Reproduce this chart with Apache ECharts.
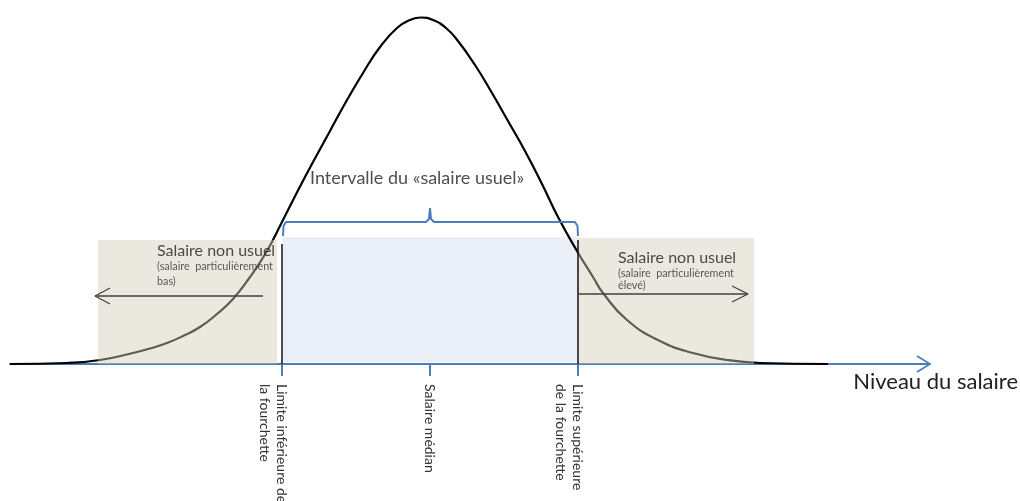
<!DOCTYPE html>
<html>
<head>
<meta charset="utf-8">
<script src="https://cdn.jsdelivr.net/npm/echarts@6/dist/echarts.min.js"></script>
<style>html,body{margin:0;padding:0;background:#fff}#c{width:1020px;height:501px}</style>
</head>
<body>
<div id="c"></div>
<script>
// Salary distribution curve (schematic), x = salary level, y = density
const curveX = [-2, 3.7, 7, 10.3, 12, 13.7, 15.3, 17, 18.7, 20.3, 22, 23.7, 25.3, 27.5, 30, 31.7, 33.3, 35, 36.7, 38, 39.1, 40.3, 41.6, 42.8, 44.5, 46.2, 47.8, 49.5, 51.2, 52.8, 54.7, 56.3, 57.3, 59.7, 63, 66.3, 69.7, 73, 79.8];
const curveY = [0, 0.1, 0.4, 1.1, 1.55, 2.1, 2.8, 3.7, 5.0, 6.5, 8.7, 11.3, 14.4, 18.7, 23.3, 26.4, 29.1, 31.7, 33.6, 34.4, 34.65, 34.4, 33.6, 32.3, 29.9, 27.1, 24.3, 21.3, 18, 14.7, 11.3, 8.7, 7.1, 4.4, 2.3, 1.1, 0.4, 0.1, 0];

// Key salary levels on the axis
const tickValues = [25.2, 40, 54.8];
const tickLabels = ['Limite inférieure de\nla fourchette', 'Salaire médian', 'Limite supérieure\nde la fourchette'];

// Zones [x0, y0, x1, y1]
const usualZone = [25.3, 0.2, 54.8, 12.7];
const lowZone = [6.8, -0.3, 24.7, 12.4];
const highZone = [54.8, -0.3, 72.4, 12.6];

// Limit lines
const lowerLimitLine = [[25.2, 12.0], [25.2, 0]];
const upperLimitLine = [[54.8, 12.4], [54.8, 0]];

// Brace above the usual interval
const braceX = [25.3, 25.35, 25.6, 39.6, 39.9, 40, 40.1, 40.4, 54.5, 54.75, 54.8];
const braceY = [12.8, 13.8, 14.2, 14.2, 14.5, 15.6, 14.5, 14.2, 14.2, 13.8, 12.8];

// Arrows
const lowArrow = [[23.3, 6.8], [6.5, 6.8]];
const lowArrowHead = [[8, 7.6], [6.5, 6.8], [8, 6.0]];
const highArrow = [[54.8, 7.0], [71.8, 7.0]];
const highArrowHead = [[70.2, 7.8], [71.8, 7.0], [70.2, 6.2]];
const axisArrowHead = [[88.7, 0.8], [90, 0], [88.7, -0.8]];

// Annotations
const titleNote = [{name: 'Intervalle du «salaire usuel»', value: [28, 18.6]}];
const zoneNotes = [
  {name: 'Salaire non usuel', value: [12.7, 11.3]},
  {name: 'Salaire non usuel', value: [58.8, 10.6]}
];
const zoneSubNotes = [
  {name: '(salaire  particulièrement', value: [12.7, 9.7]},
  {name: 'bas)', value: [12.7, 8.2]},
  {name: '(salaire  particulièrement', value: [58.8, 9.0]},
  {name: 'élevé)', value: [58.8, 7.8]}
];

const zip = (xs, ys) => xs.map((x, i) => [x, ys[i]]);
const FONT = 'Lato';
const BLUE = '#4A7EBB';

const rectArea = (r) => [{coord: [r[0], r[1]]}, {coord: [r[2], r[3]]}];

const lineSeries = (data, color, width, z) => ({
  type: 'line', data, symbol: 'none', clip: false, silent: true, z,
  lineStyle: {color, width}, animation: false
});

const textSeries = (data, size, color) => ({
  type: 'scatter', data, symbolSize: 0, clip: false, silent: true, z: 10, animation: false,
  label: {show: true, position: 'right', distance: 0, formatter: p => p.name,
    fontFamily: FONT, fontSize: size, color}
});

const chart = echarts.init(document.getElementById('c'));
chart.setOption({
  animation: false,
  grid: {left: 10, right: 90, top: 14, bottom: 137, containLabel: false, outerBoundsMode: 'none'},
  xAxis: {
    type: 'value', min: -2, max: 90,
    name: 'Niveau du salaire', nameLocation: 'end', nameGap: 88,
    nameTextStyle: {fontFamily: FONT, fontSize: 22, color: '#222', align: 'right', verticalAlign: 'top', padding: [7, 0, 0, 0]},
    axisLine: {show: true, onZero: false, lineStyle: {color: BLUE, width: 2}},
    axisTick: {show: true, customValues: tickValues, length: 12, lineStyle: {color: BLUE, width: 2}},
    axisLabel: {show: true, customValues: tickValues, rotate: -90, margin: 20,
      align: 'left', verticalAlign: 'middle', lineHeight: 17,
      fontFamily: FONT, fontSize: 14, color: '#333',
      formatter: v => {
        const i = tickValues.findIndex(t => Math.abs(t - v) < 1e-6);
        const s = i >= 0 ? tickLabels[i] : '';
        return s.indexOf('\n') >= 0 ? ' \n' + s : s;
      }},
    splitLine: {show: false}
  },
  yAxis: {type: 'value', min: 0, max: 35, show: false},
  series: [
    {type: 'line', data: [], z: 1, silent: true,
      markArea: {silent: true, z: 1, itemStyle: {color: '#E9EEF7'}, data: [rectArea(usualZone)]}},
    {type: 'line', data: zip(curveX, curveY), symbol: 'none', smooth: 0.5, clip: false, silent: true, z: 2,
      lineStyle: {color: '#000', width: 2.2}},
    {type: 'line', data: [], z: 3, silent: true,
      markArea: {silent: true, z: 3, itemStyle: {color: 'rgba(211,204,184,0.45)'},
        data: [rectArea(lowZone), rectArea(highZone)]}},
    lineSeries(lowerLimitLine, '#111', 1.5, 5),
    lineSeries(upperLimitLine, '#111', 1.5, 5),
    lineSeries(zip(braceX, braceY), BLUE, 2, 5),
    lineSeries(lowArrow, '#404040', 1.3, 5),
    lineSeries(lowArrowHead, '#404040', 1.3, 5),
    lineSeries(highArrow, '#404040', 1.3, 5),
    lineSeries(highArrowHead, '#404040', 1.3, 5),
    lineSeries(axisArrowHead, BLUE, 1.6, 5),
    textSeries(titleNote, 18, '#222'),
    textSeries(zoneNotes, 16, '#222'),
    textSeries(zoneSubNotes, 10.8, '#333')
  ]
});
</script>
</body>
</html>
